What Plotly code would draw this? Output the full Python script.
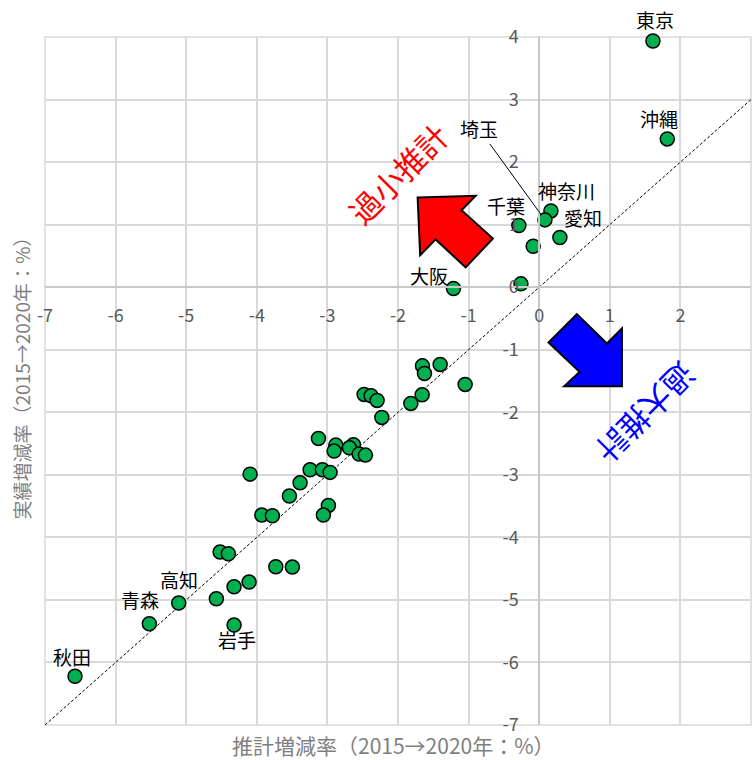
import plotly.graph_objects as go

# ---------------- data ----------------
est_rate = [1.611, 1.814, 0.166, 0.081, 0.293, -0.288, -0.085, -0.259, -1.214,
            -1.654, -1.625, -1.403, -1.049, -1.658, -1.818, -2.480, -2.381, -2.296, -2.229,
            -3.127, -2.881, -2.905, -2.631, -2.688, -2.551, -2.461, -4.095, -3.245, -3.071,
            -2.962, -3.387, -3.538, -3.929, -3.779, -2.986, -3.057, -4.520, -4.403, -3.731,
            -3.496, -4.322, -4.109, -4.573, -5.106, -5.522, -4.322, -6.575]
act_rate = [3.936, 2.370, 1.219, 1.076, 0.794, 0.986, 0.655, 0.053, -0.021,
            -1.258, -1.379, -1.235, -1.555, -1.721, -1.859, -1.715, -1.737, -1.811, -2.082,
            -2.418, -2.525, -2.621, -2.520, -2.568, -2.669, -2.685, -2.989, -2.920, -2.920,
            -2.961, -3.128, -3.340, -3.644, -3.655, -3.489, -3.644, -4.235, -4.262, -4.470,
            -4.475, -4.790, -4.715, -4.982, -5.050, -5.381, -5.402, -6.222]
names = ["東京", "沖縄", "神奈川", "埼玉", "愛知", "千葉", "", "", "大阪",
         "", "", "", "", "", "", "", "", "", "",
         "", "", "", "", "", "", "", "", "", "",
         "", "", "", "", "", "", "", "", "", "",
         "", "", "", "", "高知", "青森", "岩手", "秋田"]

x_ticks = [-7, -6, -5, -4, -3, -2, -1, 0, 1, 2, 3]
y_ticks = [-7, -6, -5, -4, -3, -2, -1, 0, 1, 2, 3, 4]
x_title = "推計増減率（2015→2020年：%）"
y_title = "実績増減率（2015→2020年：%）"
under_text = "過小推計"
over_text = "過大推計"

# label offsets in px (dx, dy screen)
label_offsets = {
    "東京": (2, -22), "沖縄": (-8, -20), "神奈川": (16, -20), "千葉": (-13, -20),
    "愛知": (23, -20), "大阪": (-24, -13), "高知": (0, -24), "青森": (-9, -24),
    "岩手": (3, 14), "秋田": (-3, -20),
}

FONT = "Noto Sans CJK JP"
XMIN, XMAX = x_ticks[0], x_ticks[-1]
YMIN, YMAX = y_ticks[0], y_ticks[-1]

fig = go.Figure()

# diagonal y = x
fig.add_trace(go.Scatter(
    x=[XMIN, XMAX], y=[XMIN, XMAX], mode="lines",
    line=dict(color="black", width=1, dash="3px,2px"),
    hoverinfo="skip", showlegend=False))

fig.add_trace(go.Scatter(
    x=est_rate, y=act_rate, mode="markers",
    marker=dict(size=14, color="#00B050", line=dict(color="black", width=1.5)),
    text=names, showlegend=False, cliponaxis=False))

annotations = []
for xv, yv, nm in zip(est_rate, act_rate, names):
    if not nm:
        continue
    if nm == "埼玉":
        annotations.append(dict(
            x=xv, y=yv, xref="x", yref="y", text=nm, showarrow=True,
            ax=-66, ay=-91, arrowhead=0, arrowwidth=1, arrowcolor="black",
            standoff=7, font=dict(family=FONT, size=19, color="black")))
    else:
        dx, dy = label_offsets[nm]
        annotations.append(dict(
            x=xv, y=yv, xref="x", yref="y", text=nm, showarrow=False,
            xshift=dx, yshift=-dy, font=dict(family=FONT, size=19, color="black")))

annotations.append(dict(x=-2.006, y=1.817, xref="x", yref="y", text=under_text,
                        showarrow=False, textangle=-45,
                        font=dict(family=FONT, size=31, color="#FF0000")))
annotations.append(dict(x=1.514, y=-2.019, xref="x", yref="y", text=over_text,
                        showarrow=False, textangle=135,
                        font=dict(family=FONT, size=31, color="#0000FF")))

annotations.append(dict(x=0.494, y=0, xref="paper", yref="paper", text=x_title,
                        showarrow=False, yanchor="middle", yshift=-20,
                        font=dict(family=FONT, size=21, color="#7f7f7f")))
annotations.append(dict(x=0, y=0.511, xref="paper", yref="paper", text=y_title,
                        showarrow=False, textangle=-90, xanchor="center", xshift=-24,
                        font=dict(family=FONT, size=19, color="#7f7f7f")))

def arrow_path(pts):
    return "M " + " L ".join(f"{a},{b}" for a, b in pts) + " Z"

red_arrow = [(-1.722, 1.434), (-0.900, 1.462), (-1.101, 1.231), (-0.656, 0.778),
             (-1.042, 0.316), (-1.467, 0.764), (-1.686, 0.511)]
blue_arrow = [(0.534, -0.431), (0.959, -0.900), (1.172, -0.660), (1.172, -1.582),
              (0.354, -1.582), (0.571, -1.354), (0.132, -0.884)]

shapes = [
    dict(type="path", xref="x", yref="y", path=arrow_path(red_arrow),
         fillcolor="#FF0000", line=dict(color="black", width=2)),
    dict(type="path", xref="x", yref="y", path=arrow_path(blue_arrow),
         fillcolor="#0000FF", line=dict(color="black", width=2)),
    dict(type="rect", xref="paper", yref="paper", x0=0, y0=0, x1=1, y1=1,
         line=dict(color="#d9d9d9", width=1.5), layer="below"),
]

fig.update_layout(
    width=755, height=760,
    margin=dict(l=45, r=4, t=37, b=35, autoexpand=False),
    paper_bgcolor="white", plot_bgcolor="white",
    annotations=annotations, shapes=shapes,
    xaxis=dict(range=[XMIN, XMAX], tickvals=x_ticks, ticktext=[str(v) for v in x_ticks],
               showgrid=True, gridcolor="#d9d9d9", gridwidth=1.5, zeroline=False,
               showline=True, linecolor="#c8c8c8", linewidth=1.5, automargin=False,
               anchor="free", position=(0 - YMIN) / (YMAX - YMIN),
               ticks="", ticklabelstandoff=12,
               tickfont=dict(family=FONT, size=18, color="#595959")),
    yaxis=dict(range=[YMIN, YMAX], tickvals=y_ticks, ticktext=[str(v) for v in y_ticks],
               showgrid=True, gridcolor="#d9d9d9", gridwidth=1.5, zeroline=False,
               showline=True, linecolor="#c8c8c8", linewidth=1.5, automargin=False,
               anchor="free", position=(0 - XMIN) / (XMAX - XMIN),
               ticks="", ticklabelstandoff=16,
               tickfont=dict(family=FONT, size=18, color="#595959")),
)

fig.write_html("out.html", config={"displayModeBar": False},
               post_script="document.body.style.margin='0';document.body.style.overflow='hidden';")
